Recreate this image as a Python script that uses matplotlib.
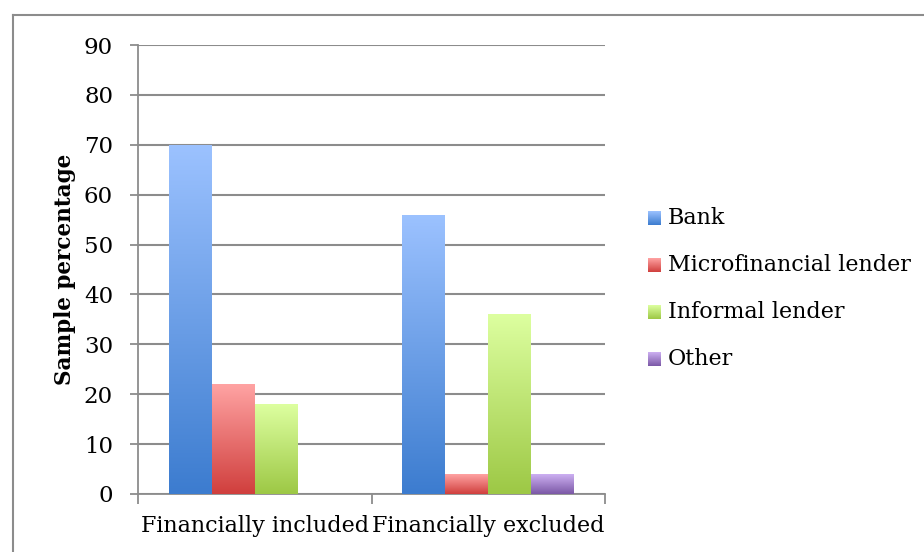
import numpy as np
import matplotlib
matplotlib.use("Agg")
import matplotlib.pyplot as plt
from matplotlib.colors import LinearSegmentedColormap
from matplotlib.lines import Line2D

categories = ["Financially included", "Financially excluded"]
series = ["Bank", "Microfinancial lender", "Informal lender", "Other"]
bank = [70, 56]
micro = [22, 4]
informal = [18, 36]
other = [0, 4]
values = [bank, micro, informal, other]

# (top colour, bottom colour) for the Excel-like gradient
grads = [("#9cc2ff", "#3c7ccf"),
         ("#ffa3a3", "#d03f3d"),
         ("#ddffa0", "#9dc845"),
         ("#cdb0f2", "#7b58a6")]

plt.rcParams["font.family"] = ["DejaVu Serif"]

W, H = 924, 552
fig = plt.figure(figsize=(W / 100, H / 100), dpi=100)
ax = fig.add_axes([138 / W, 1 - 494 / H, (605 - 138) / W, (494 - 45) / H])

x = np.arange(len(categories))
bw = 0.184
grad = np.linspace(1, 0, 256).reshape(-1, 1)
for i, (name, vals) in enumerate(zip(series, values)):
    cmap = LinearSegmentedColormap.from_list(name, [grads[i][1], grads[i][0]])
    bars = ax.bar(x + (i - 1.5) * bw, vals, bw, color="none", edgecolor="none", zorder=3)
    for b in bars:
        h = b.get_height()
        if h <= 0:
            continue
        x0 = b.get_x()
        im = ax.imshow(grad, cmap=cmap, aspect="auto", vmin=0, vmax=1,
                       extent=(x0, x0 + bw, 0, h), zorder=3, interpolation="bilinear")
        im.set_clip_path(b)

ax.set_xlim(-0.5, 1.5)
ax.set_ylim(0, 90)
ax.set_yticks(range(0, 91, 10))
ax.yaxis.grid(True, color="#8c8c8c", linewidth=1.5, zorder=0)
ax.set_axisbelow(True)
ax.set_xticks(x)
ax.set_xticklabels(categories)
ax.set_xticks([-0.5, 0.5, 1.5], minor=True)
ax.tick_params(axis="x", which="major", length=0, pad=15, labelsize=16)
ax.tick_params(axis="x", which="minor", length=7, width=1.3, color="#8c8c8c")
ax.tick_params(axis="y", length=6, width=1.3, color="#8c8c8c", labelsize=16.5, pad=12)
for s in ["top", "right"]:
    ax.spines[s].set_visible(False)
for s in ["left", "bottom"]:
    ax.spines[s].set_color("#8c8c8c")
    ax.spines[s].set_linewidth(1.3)
ax.set_ylabel("Sample percentage", fontsize=15.5, fontweight="bold", labelpad=6)

# legend drawn by hand so the swatches keep the gradient
for i, name in enumerate(series):
    yc = 218 + i * 47
    lax = fig.add_axes([648 / W, 1 - (yc + 7) / H, 13 / W, 14 / H])
    cmap = LinearSegmentedColormap.from_list(name, [grads[i][1], grads[i][0]])
    lax.imshow(grad, cmap=cmap, aspect="auto", vmin=0, vmax=1)
    lax.axis("off")
    fig.text(668 / W, 1 - yc / H, name, fontsize=16, va="center", ha="left")

# outer chart border (open to the right and bottom)
fig.add_artist(Line2D([13 / W, 1], [1 - 15 / H, 1 - 15 / H], color="#8c8c8c", lw=1.5))
fig.add_artist(Line2D([13 / W, 13 / W], [0, 1 - 15 / H], color="#8c8c8c", lw=1.5))

fig.savefig("out.png", dpi=100)
